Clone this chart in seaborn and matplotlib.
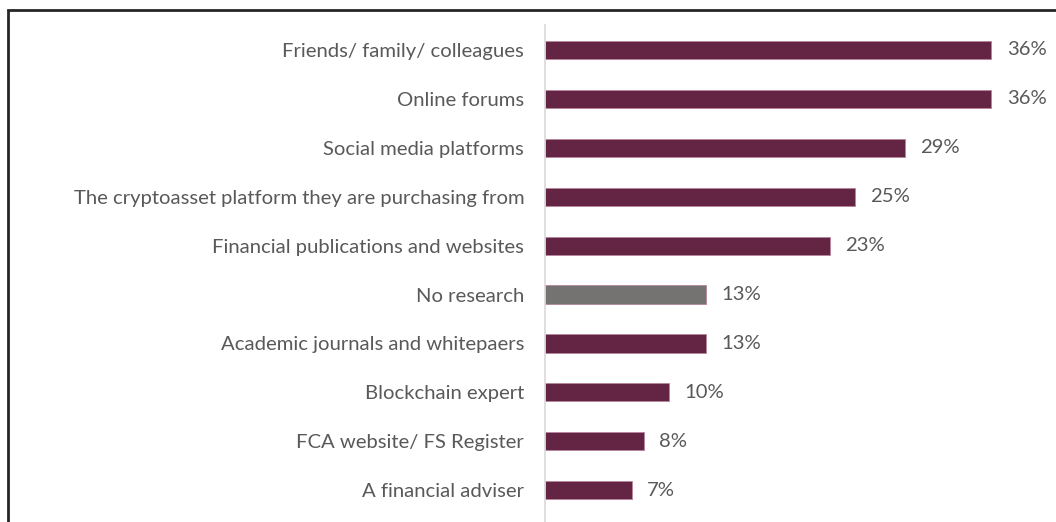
import matplotlib
matplotlib.use("Agg")
import matplotlib.pyplot as plt
from matplotlib.patches import Rectangle
import seaborn as sns
import pandas as pd

categories = [
    "Friends/ family/ colleagues",
    "Online forums",
    "Social media platforms",
    "The cryptoasset platform they are purchasing from",
    "Financial publications and websites",
    "No research",
    "Academic journals and whitepaers",
    "Blockchain expert",
    "FCA website/ FS Register",
    "A financial adviser",
]
values = [36, 36, 29, 25, 23, 13, 13, 10, 8, 7]
value_labels = ["36%", "36%", "29%", "25%", "23%", "13%", "13%", "10%", "8%", "7%"]

MAROON = "#6e1b45"
GREY = "#767171"
TEXT = "#595959"
colors = [GREY if c == "No research" else MAROON for c in categories]

df = pd.DataFrame({"category": categories, "value": values})

sns.set_theme(style="white")
plt.rcParams["font.family"] = ["Lato", "DejaVu Sans"]

W, H = 1056, 522
fig = plt.figure(figsize=(W / 100, H / 100), dpi=100)
ax_left, ax_right = 545, 1041
ax_top, ax_bottom = 25, 522
ax = fig.add_axes([ax_left / W, (H - ax_bottom) / H,
                   (ax_right - ax_left) / W, (ax_bottom - ax_top) / H])

sns.barplot(data=df, x="value", y="category", hue="category", palette=colors,
            legend=False, width=0.37, ax=ax, edgecolor="#b6849c", linewidth=0.6)

ax.set_xlim(0, 40)
ax.set_ylim(9.65, -0.51)
ax.set_xlabel("")
ax.set_ylabel("")
ax.set_xticks([])
for s in ["top", "right", "bottom"]:
    ax.spines[s].set_visible(False)
ax.spines["left"].set_color("#d9d9d9")
ax.spines["left"].set_linewidth(1.2)
ax.tick_params(axis="y", length=0, pad=15, labelsize=14.6, labelcolor=TEXT)

for i, (v, lab) in enumerate(zip(values, value_labels)):
    ax.annotate(lab, xy=(v, i), xytext=(11, 0), textcoords="offset points",
                va="center", ha="left", fontsize=14.6, color=TEXT)

# outer frame
fig.patches.append(Rectangle((8 / W, -0.1), 1.2, 1.1 - 10 / H, transform=fig.transFigure,
                             fill=False, edgecolor="#262626", linewidth=2.0, zorder=10))

fig.savefig("out.png", dpi=100, facecolor="white")
